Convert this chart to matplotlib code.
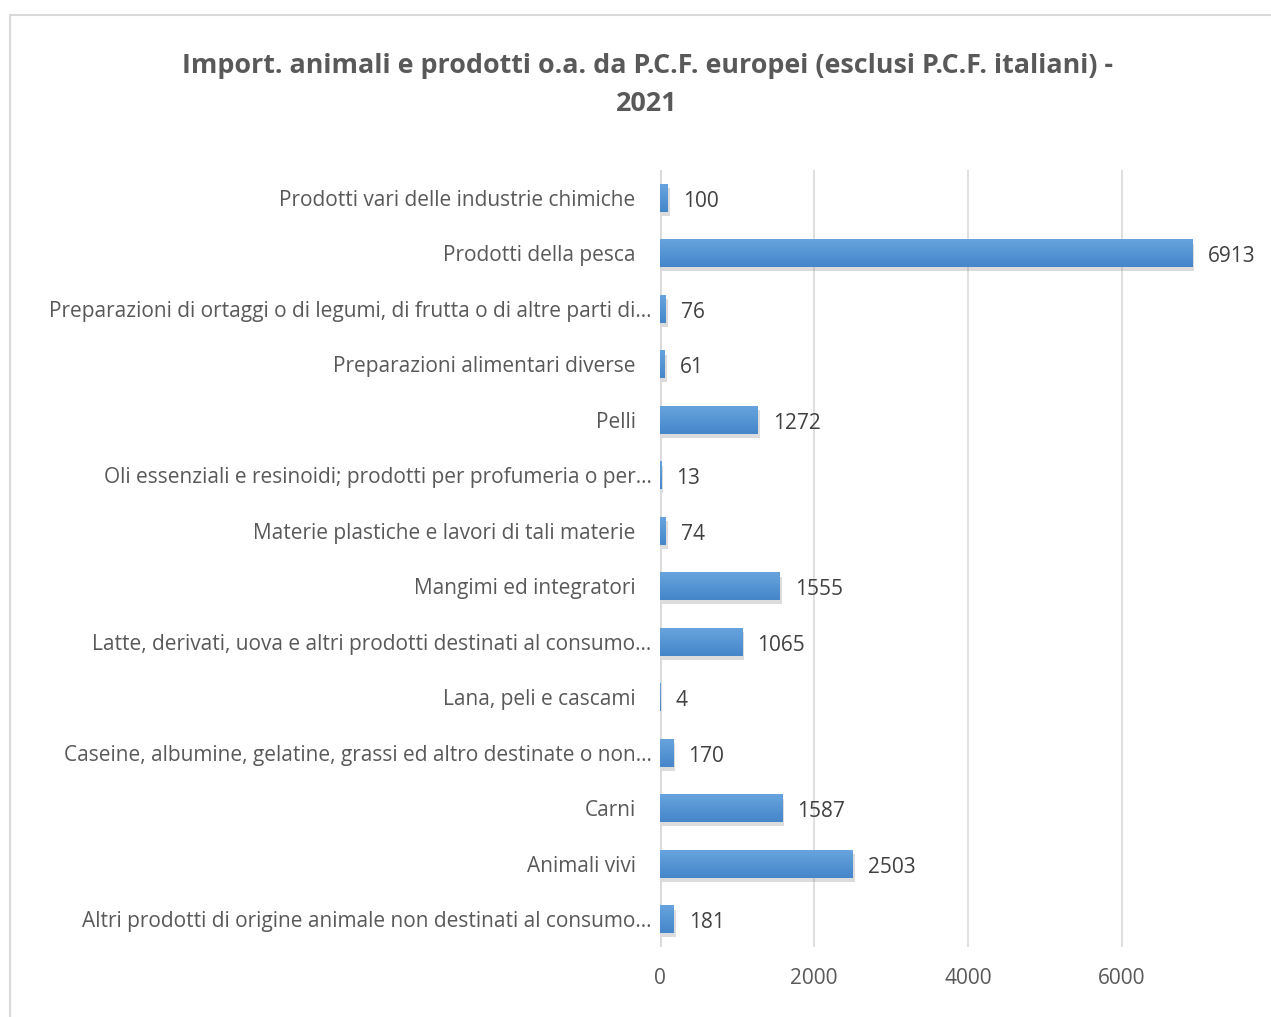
import matplotlib
matplotlib.use("Agg")
import matplotlib.pyplot as plt
import matplotlib.patheffects as pe
import matplotlib.transforms as mtrans
import numpy as np
from matplotlib.patches import Rectangle
from matplotlib.colors import LinearSegmentedColormap

categories = [
    "Prodotti vari delle industrie chimiche",
    "Prodotti della pesca",
    "Preparazioni di ortaggi o di legumi, di frutta o di altre parti di…",
    "Preparazioni alimentari diverse",
    "Pelli",
    "Oli essenziali e resinoidi; prodotti per profumeria o per…",
    "Materie plastiche e lavori di tali materie",
    "Mangimi ed integratori",
    "Latte, derivati, uova e altri prodotti destinati al consumo…",
    "Lana, peli e cascami",
    "Caseine, albumine, gelatine, grassi ed altro destinate o non…",
    "Carni",
    "Animali vivi",
    "Altri prodotti di origine animale non destinati al consumo…",
]
values = [100, 6913, 76, 61, 1272, 13, 74, 1555, 1065, 4, 170, 1587, 2503, 181]
xticks = [0, 2000, 4000, 6000]
title = "Import. animali e prodotti o.a. da P.C.F. europei (esclusi P.C.F. italiani) -\n2021"

plt.rcParams['font.family'] = ['Open Sans', 'DejaVu Sans']
txt = '#595959'

W, H = 1271, 1017
fig = plt.figure(figsize=(W/100, H/100), dpi=100)

# chart border
fig.patches.append(Rectangle((10/W, -0.1), 1.2, (H-15)/H + 0.1, transform=fig.transFigure,
                             fill=False, edgecolor='#d9d9d9', linewidth=1.5))

left, right = 660/W, 1276/W
bottom, top = (H-947)/H, (H-170)/H
ax = fig.add_axes([left, bottom, right-left, top-bottom])

n = len(categories)
ypos = list(range(n))[::-1]
bh = 0.5
bars = ax.barh(ypos, values, height=bh, color='#5597d7', zorder=3)
grad = np.linspace(0, 1, 64).reshape(-1, 1)
cmap = LinearSegmentedColormap.from_list('g', ['#4586ca', '#67a4de'])
for b, y, v in zip(bars, ypos, values):
    b.set_path_effects([pe.SimplePatchShadow(offset=(1.5, -3), shadow_rgbFace='#8c8c8c', alpha=0.3), pe.Normal()])
    im = ax.imshow(grad, extent=(0, v, y - bh/2, y + bh/2), origin='lower', cmap=cmap,
                   aspect='auto', zorder=3.5, interpolation='bilinear')
    im.set_clip_path(b)

for y, v in zip(ypos, values):
    ax.annotate(str(v), (v, y), xytext=(11, -2.5), textcoords='offset points',
                va='center', ha='left', fontsize=15, color='#404040')

ax.set_xlim(0, 8000)
ax.set_ylim(-0.5, n-0.5)
ax.set_xticks(xticks)
ax.set_xticklabels([str(t) for t in xticks], fontsize=15, color=txt)
ax.set_yticks(ypos)
ax.set_yticklabels(categories, fontsize=15, color=txt)
ax.tick_params(axis='both', length=0)
ax.tick_params(axis='y', pad=17.5)
ax.tick_params(axis='x', pad=15)
ax.grid(axis='x', color='#d9d9d9', linewidth=1.2, zorder=0)
for s in ax.spines.values():
    s.set_visible(False)
ax.axvline(0, color='#d9d9d9', linewidth=2, zorder=1)

shift = mtrans.ScaledTranslation(16/100, 0, fig.dpi_scale_trans)
for lab in ax.get_yticklabels():
    if lab.get_text().endswith('…'):
        lab.set_transform(lab.get_transform() + shift)

fig.text(647/W, (H-85)/H, title, ha='center', va='center', fontsize=19.4,
         fontweight='bold', color=txt, linespacing=1.6)

fig.savefig('out.png', dpi=100)
